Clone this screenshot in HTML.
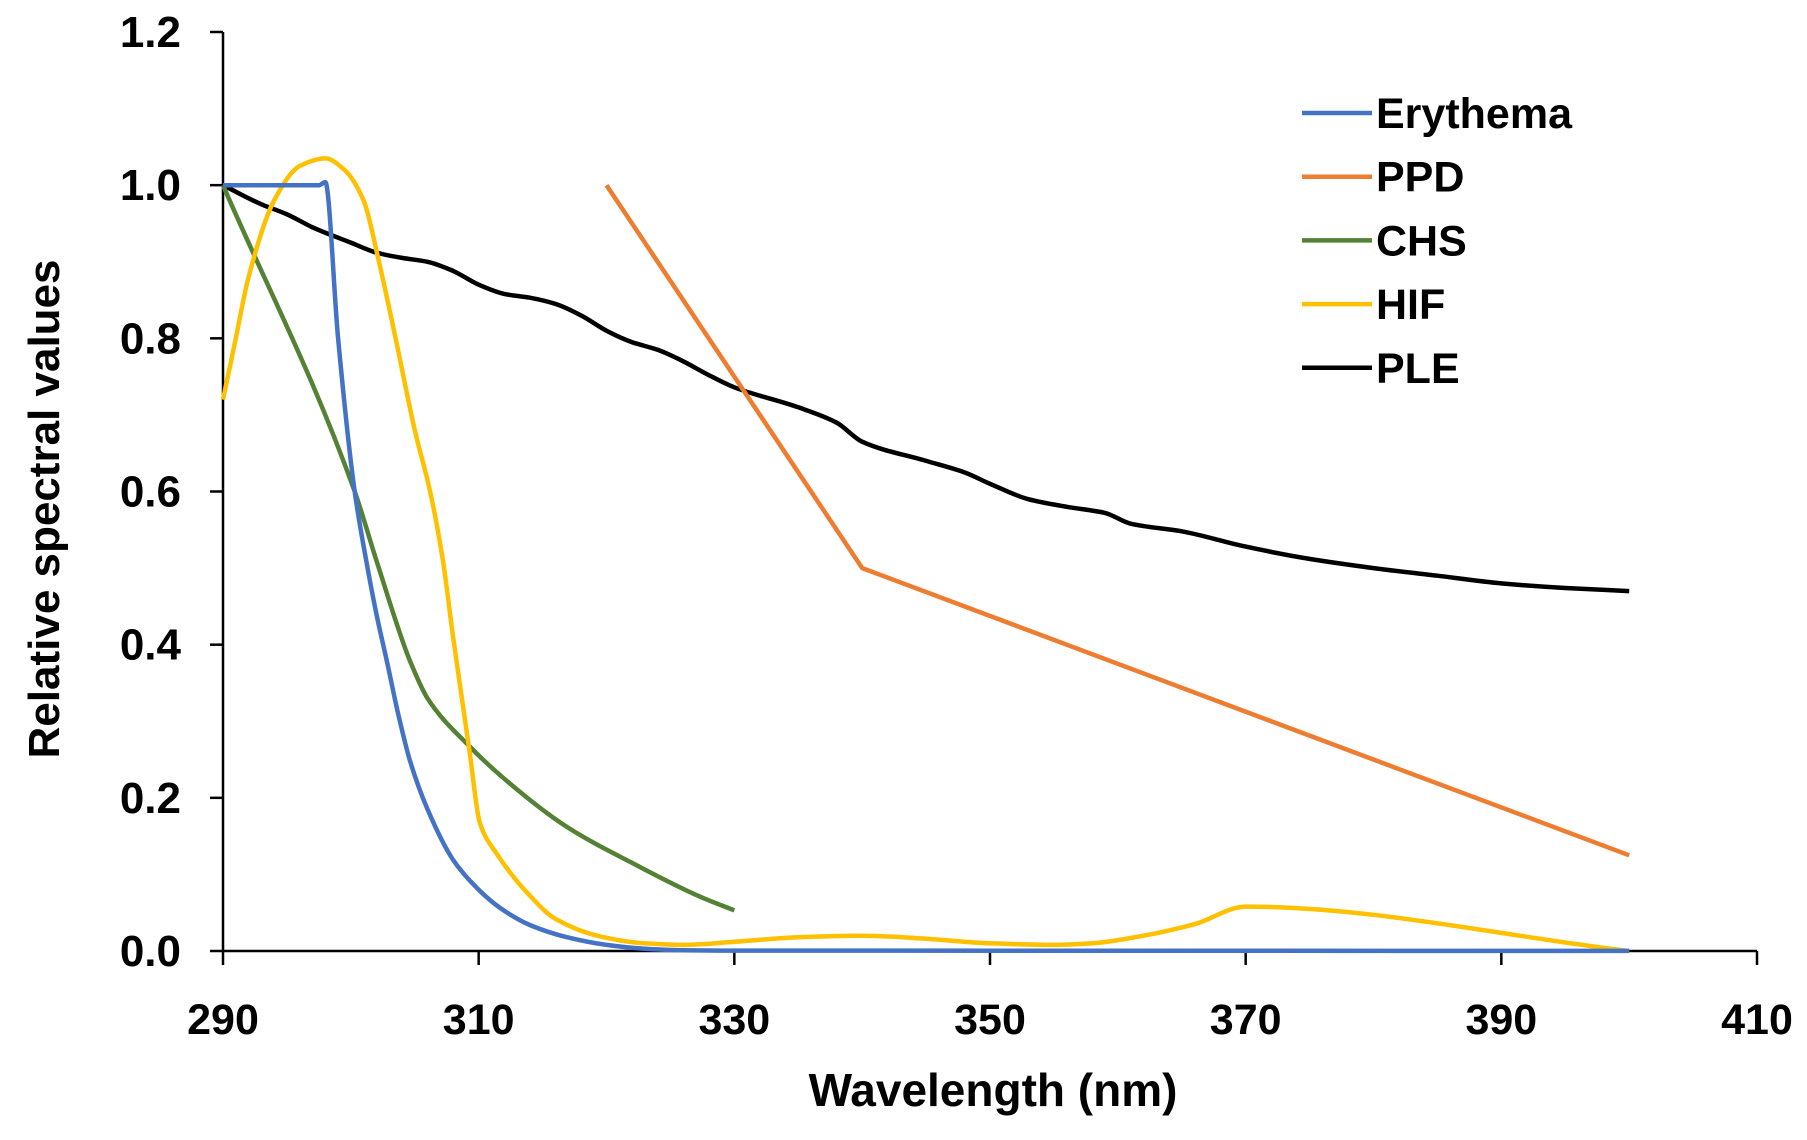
<!DOCTYPE html>
<html><head><meta charset="utf-8"><style>
body{margin:0;background:#fff}
svg text{font-family:"Liberation Sans",sans-serif;font-weight:bold;fill:#000}
</style></head><body>
<svg id="chart" width="1807" height="1135" viewBox="0 0 1807 1135" xmlns="http://www.w3.org/2000/svg">
<g id="axes"></g>
<g id="series"></g>
<g id="legend"></g>
<text x="993" y="1106" text-anchor="middle" font-size="46">Wavelength (nm)</text>
<text x="0" y="0" text-anchor="middle" font-size="44" transform="translate(59,509) rotate(-90)">Relative spectral values</text>
</svg>
<script>
const xTicks=[290,310,330,350,370,390,410];
const yTicks=[0,0.2,0.4,0.6,0.8,1.0,1.2];
const seriesNames=["Erythema","PPD","CHS","HIF","PLE"];
const seriesColors=["#4472C4","#ED7D31","#548235","#FFC000","#000000"];
const eryX=[290,297.5,298,299,300.3,301.2,302,302.8,303.7,304.6,306,308,310,311.7,314,316.9,320,323,326,330,400];
const eryY=[1,1,1.004,0.8,0.6,0.51,0.44,0.38,0.31,0.25,0.185,0.119,0.08,0.056,0.034,0.018,0.008,0.003,0.001,0.0005,0.0001];
const ppdX=[320,340,400];
const ppdY=[1,0.5,0.125];
const chsX=[290,300.3,302,304.6,306,309.3,312,316.9,322,327.3,330];
const chsY=[1,0.6,0.51,0.38,0.33,0.267,0.225,0.162,0.115,0.071,0.053];
const hifX=[290,291,292,294,296,298,299.5,301,302.2,303.5,305,306.2,307.2,308,309.3,310.1,311.5,313.8,316,319.5,323,326,330,335,340,345,350,355,358,362,366,370,400];
const hifY=[0.72,0.8,0.88,0.98,1.025,1.035,1.02,0.98,0.9,0.8,0.68,0.6,0.51,0.41,0.259,0.167,0.125,0.076,0.042,0.019,0.01,0.008,0.012,0.018,0.02,0.016,0.01,0.008,0.01,0.02,0.035,0.058,0];
const pleX=[290,293,295,297,300,302,304,306,308,310,312,314,316,318,320,322,324,326,328,330,335,338,340,345,348,350,353,356,359,361,365,370,375,380,385,390,395,400];
const pleY=[1.0,0.975,0.962,0.945,0.925,0.912,0.905,0.9,0.888,0.87,0.858,0.853,0.845,0.83,0.81,0.795,0.785,0.77,0.752,0.736,0.71,0.69,0.665,0.64,0.625,0.61,0.59,0.58,0.572,0.558,0.548,0.528,0.512,0.5,0.49,0.48,0.474,0.47];

const NS="http://www.w3.org/2000/svg";
const X0=223,X1=1757,Y0=951,Y1=32;
function sx(v){return X0+(v-290)/(410-290)*(X1-X0);}
function sy(v){return Y0-(v/1.2)*(Y0-Y1);}
function mk(tag,attrs,parent){const e=document.createElementNS(NS,tag);for(const k in attrs)e.setAttribute(k,attrs[k]);parent.appendChild(e);return e;}
function monoPath(P,straight){
 const f=p=>p[0].toFixed(1)+','+p[1].toFixed(1);
 let d='M'+f(P[0]);
 if(straight){for(let i=1;i<P.length;i++)d+=' L'+f(P[i]);return d;}
 const n=P.length,h=[],s=[],m=[];
 for(let i=0;i<n-1;i++){h[i]=P[i+1][0]-P[i][0];s[i]=(P[i+1][1]-P[i][1])/h[i];}
 m[0]=s[0];m[n-1]=s[n-2];
 for(let i=1;i<n-1;i++){
  if(s[i-1]*s[i]<=0)m[i]=0;
  else{const h0=h[i-1],h1=h[i];m[i]=3*(h0+h1)/((2*h1+h0)/s[i-1]+(h1+2*h0)/s[i]);}
 }
 for(let i=0;i<n-1;i++){
  const c1=[P[i][0]+h[i]/3,P[i][1]+m[i]*h[i]/3];
  const c2=[P[i+1][0]-h[i]/3,P[i+1][1]-m[i+1]*h[i]/3];
  d+=' C'+f(c1)+' '+f(c2)+' '+f(P[i+1]);
 }
 return d;
}
const axes=document.getElementById('axes');
let yl=mk('line',{x1:X0,y1:Y1,x2:X0,y2:Y0,stroke:'#000','stroke-width':2.5},axes);


let xl=mk('line',{x1:X0,y1:Y0,x2:X1,y2:Y0,stroke:'#000','stroke-width':2.5},axes);


yTicks.forEach(v=>{
 const t=mk('line',{x1:X0-13,y1:sy(v),x2:X0,y2:sy(v),stroke:'#000','stroke-width':2.5},axes);
 
 
 const l=mk('text',{x:181,y:sy(v)+15,'text-anchor':'end','font-size':44},axes);
 
 
 l.textContent=v.toFixed(1);
});
xTicks.forEach(v=>{
 const t=mk('line',{x1:sx(v),y1:Y0,x2:sx(v),y2:Y0+14,stroke:'#000','stroke-width':2.5},axes);
 
 
 const l=mk('text',{x:sx(v),y:1034,'text-anchor':'middle','font-size':43},axes);
 
 
 l.textContent=v;
});
const data=[[eryX,eryY],[ppdX,ppdY],[chsX,chsY],[hifX,hifY],[pleX,pleY]];
const order=[4,1,2,3,0];
const sg=document.getElementById('series');
order.forEach(i=>{
 const [xs,ys]=data[i];
 const P=xs.map((x,j)=>[sx(x),sy(ys[j])]);
 const p=mk('path',{d:monoPath(P,i===1),fill:'none',stroke:seriesColors[i],'stroke-width':4.5,'stroke-linejoin':'round'},sg);
 
 
});
const lg=document.getElementById('legend');
seriesNames.forEach((n,i)=>{
 const y=113+i*63.7;
 const l=mk('line',{x1:1302,y1:y,x2:1372,y2:y,stroke:seriesColors[i],'stroke-width':4.5},lg);
 
 
 const t=mk('text',{x:1376,y:y+15,'font-size':43},lg);
 
 
 t.textContent=n;
});
</script>
</body></html>
